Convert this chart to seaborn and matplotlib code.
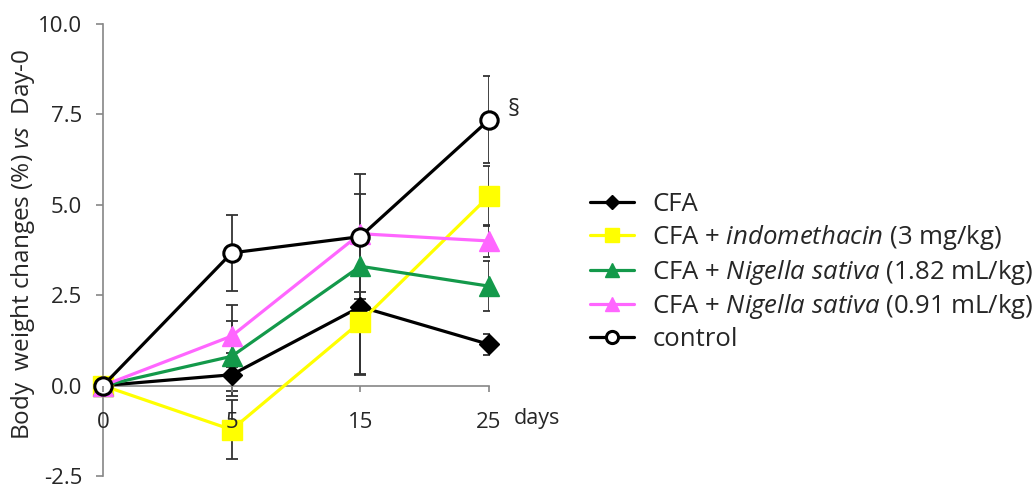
import matplotlib
matplotlib.use("Agg")
import matplotlib.pyplot as plt
import seaborn as sns
import numpy as np
import pandas as pd

# ---- data ----
days = ["0", "5", "15", "25"]
series_names = [
    "CFA",
    r"CFA + $\mathit{indomethacin}$ (3 mg/kg)",
    r"CFA + $\mathit{Nigella\ sativa}$ (1.82 mL/kg)",
    r"CFA + $\mathit{Nigella\ sativa}$ (0.91 mL/kg)",
    "control",
]
cfa_mean = [0.0, 0.30, 2.18, 1.14]
cfa_err = [0.0, 0.60, 1.90, 0.30]
indo_mean = [0.0, -1.22, 1.76, 5.24]
indo_err = [0.0, 0.81, 1.45, 0.83]
ns_high_mean = [0.0, 0.81, 3.30, 2.75]
ns_high_err = [0.0, 0.97, 0.70, 0.70]
ns_low_mean = [0.0, 1.37, 4.20, 4.00]
ns_low_err = [0.0, 0.85, 1.10, 0.45]
control_mean = [0.0, 3.67, 4.12, 7.35]
control_err = [0.0, 1.06, 1.72, 1.20]
yticks = [-2.5, 0.0, 2.5, 5.0, 7.5, 10.0]
ytick_labels = ["-2.5", "0.0", "2.5", "5.0", "7.5", "10.0"]

means = [cfa_mean, indo_mean, ns_high_mean, ns_low_mean, control_mean]
errs = [cfa_err, indo_err, ns_high_err, ns_low_err, control_err]

# ---- style ----
sns.set_style("white")
plt.rcParams["font.family"] = ["Open Sans", "DejaVu Sans"]
plt.rcParams["mathtext.fontset"] = "custom"
plt.rcParams["mathtext.rm"] = "Open Sans"
plt.rcParams["mathtext.it"] = "Open Sans:italic"
plt.rcParams["mathtext.bf"] = "Open Sans:bold"

styles = [
    dict(color="black", marker="D", markersize=10.5, mfc="black", mec="black", mew=1),
    dict(color="#FFFF00", marker="s", markersize=14, mfc="#FFFF00", mec="#FFFF00", mew=1),
    dict(color="#13994A", marker="^", markersize=15, mfc="#13994A", mec="#13994A", mew=1),
    dict(color="#FF66FF", marker="^", markersize=15, mfc="#FF66FF", mec="#FF66FF", mew=1),
    dict(color="black", marker="o", markersize=12.5, mfc="white", mec="black", mew=2.2),
]

fig = plt.figure(figsize=(10.36, 4.94), dpi=100)
W, H = 1036, 494
ax = fig.add_axes([103 / W, 1 - 476 / H, (489 - 103) / W, (476 - 24) / H])

xpos = np.arange(len(days))

# error bars (behind)
for m, e in zip(means, errs):
    ax.errorbar(xpos, m, yerr=e, fmt="none", ecolor="#333333", elinewidth=1.3,
                capsize=4.3, capthick=1.3, zorder=2)

for i, (name, m, st) in enumerate(zip(series_names, means, styles)):
    df = pd.DataFrame({"x": xpos, "y": m})
    sns.lineplot(data=df, x="x", y="y", ax=ax, label=name, linewidth=2.3,
                 clip_on=False, zorder=3 + i, **st)

ax.set_xlim(0, 3)
ax.set_ylim(-2.5, 10)
ax.set_xticks(xpos)
ax.set_xticklabels(days)
ax.set_yticks(yticks)
ax.set_yticklabels(ytick_labels)
ax.xaxis.set_zorder(20)

for s in ["top", "right"]:
    ax.spines[s].set_visible(False)
ax.spines["left"].set_color("#868686")
ax.spines["left"].set_linewidth(1.2)
ax.spines["bottom"].set_color("#868686")
ax.spines["bottom"].set_linewidth(1.2)
ax.spines["bottom"].set_position(("data", 0))

ax.tick_params(axis="y", direction="out", length=5, width=1.2, color="#868686",
               labelsize=16, pad=10, labelcolor="#262626", left=True)
ax.tick_params(axis="x", direction="out", length=4, width=1.2, color="#868686",
               labelsize=16, pad=15, labelcolor="#262626", bottom=True)

ax.set_xlabel("")
ax.set_ylabel(r"Body  weight changes (%) $\mathit{vs}$  Day-0", fontsize=17.5,
              color="#262626")
ax.yaxis.set_label_coords(-0.172, 0.513)

ax.annotate("days", xy=(3, 0), xytext=(18, -24), textcoords="offset points",
            ha="left", va="center", fontsize=15.5, color="#262626",
            annotation_clip=False)
ax.annotate("§", xy=(3, control_mean[3]), xytext=(18, 7), textcoords="offset points",
            ha="center", va="center", fontsize=17, color="#262626",
            annotation_clip=False)

leg = ax.legend(loc="center left", bbox_to_anchor=(590 / W, 1 - 272 / H),
                bbox_transform=fig.transFigure, frameon=False, fontsize=18.5,
                borderaxespad=0, borderpad=0, handlelength=1.7,
                handletextpad=0.72, labelspacing=0.22, markerscale=0.7)
for t in leg.get_texts():
    t.set_color("#262626")

fig.savefig("out.png", dpi=100)
